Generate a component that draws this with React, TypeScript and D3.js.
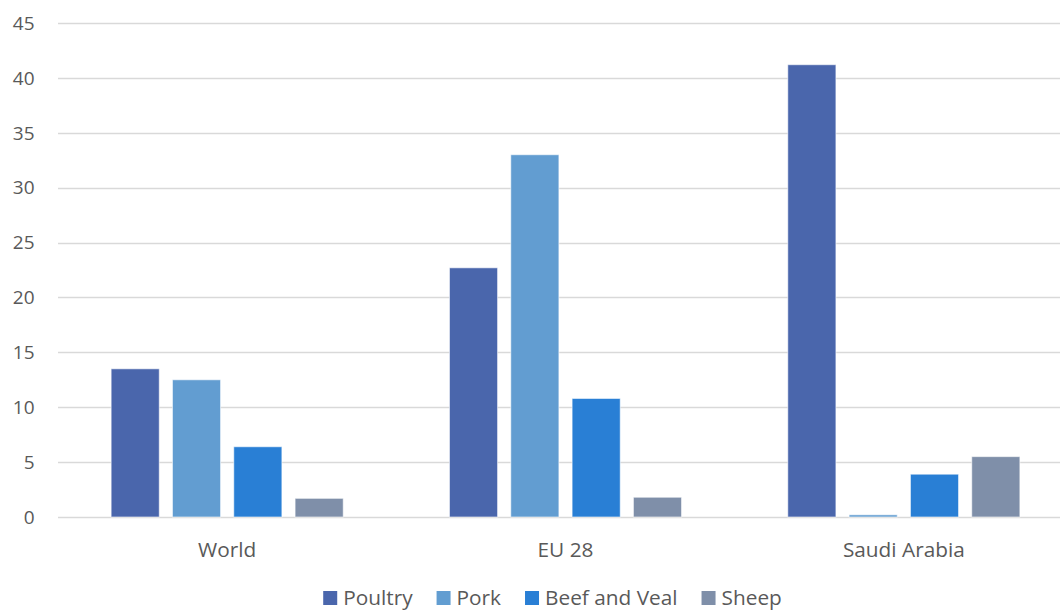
import React, { useEffect, useRef } from "react";
import * as d3 from "d3";

const categories = ["World", "EU 28", "Saudi Arabia"];
const seriesNames = ["Poultry", "Pork", "Beef and Veal", "Sheep"];
const poultry = [13.5, 22.7, 41.2];
const pork = [12.5, 33.0, 0.2];
const beef = [6.4, 10.8, 3.9];
const sheep = [1.7, 1.8, 5.5];
const yTicks = [0, 5, 10, 15, 20, 25, 30, 35, 40, 45];
const colors = ["#4A66AC", "#629DD1", "#297FD5", "#7F8FA9"];

const W = 1060;
const H = 610;
const FONT = "'Open Sans', sans-serif";
const FS_TICK = 19;
const FS = 20.8;

export default function App() {
  const ref = useRef<SVGSVGElement>(null);
  useEffect(() => {
    const svg = d3.select(ref.current);
    svg.selectAll("*").remove();
    const values = [poultry, pork, beef, sheep];
    const x0 = d3.scaleBand().domain(categories).range([58, 1073]).paddingInner(0).paddingOuter(0);
    const groupW = x0.bandwidth() * 0.686;
    const x1 = d3
      .scaleBand()
      .domain(seriesNames)
      .range([(x0.bandwidth() - groupW) / 2, (x0.bandwidth() + groupW) / 2])
      .paddingInner(0.215)
      .paddingOuter(0);
    const y = d3.scaleLinear().domain([0, 45]).range([517, 23]);

    const g = svg.append("g");
    g.selectAll("line.grid")
      .data(yTicks)
      .join("line")
      .attr("x1", 58)
      .attr("x2", W)
      .attr("y1", (d) => Math.round(y(d)) + 0.5)
      .attr("y2", (d) => Math.round(y(d)) + 0.5)
      .attr("stroke", "#d9d9d9")
      .attr("stroke-width", 1.3);

    g.selectAll("text.ytick")
      .data(yTicks)
      .join("text")
      .attr("x", 34.5)
      .attr("y", (d) => y(d) + 6.8)
      .attr("text-anchor", "end")
      .attr("font-family", FONT)
      .attr("font-size", FS_TICK)
      .attr("fill", "#595959")
      .text((d) => String(d));

    seriesNames.forEach((s, si) => {
      g.selectAll("rect.s" + si)
        .data(categories)
        .join("rect")
        .attr("x", (c) => (x0(c) as number) + (x1(s) as number))
        .attr("y", (c, i) => y(values[si][i]))
        .attr("width", x1.bandwidth())
        .attr("height", (c, i) => y(0) - y(values[si][i]))
        .attr("fill", colors[si])
        .attr("stroke", "rgba(255,255,255,0.6)")
        .attr("stroke-width", 1);
    });

    g.selectAll("text.cat")
      .data(categories)
      .join("text")
      .attr("x", (c) => (x0(c) as number) + x0.bandwidth() / 2)
      .attr("y", 556.5)
      .attr("text-anchor", "middle")
      .attr("font-family", FONT)
      .attr("font-size", FS)
      .attr("fill", "#595959")
      .text((c) => c);

    // legend
    const lg = svg.append("g");
    const items = lg
      .selectAll("g")
      .data(seriesNames)
      .join("g");
    items
      .append("rect")
      .attr("width", 14)
      .attr("height", 14)
      .attr("y", 591)
      .attr("fill", (d, i) => colors[i]);
    items
      .append("text")
      .attr("x", 20)
      .attr("y", 605)
      .attr("font-family", FONT)
      .attr("font-size", FS)
      .attr("fill", "#595959")
      .text((d) => d);
    const widths: number[] = [];
    items.each(function () {
      const t = d3.select(this).select("text").node() as SVGTextElement;
      widths.push(20 + t.getComputedTextLength());
    });
    const gap = 24;
    const total = d3.sum(widths) + gap * (widths.length - 1);
    let cx = 552.5 - total / 2;
    items.attr("transform", (d, i) => {
      const tx = cx;
      cx += widths[i] + gap;
      return `translate(${tx},0)`;
    });
  }, []);
  return (
    <svg ref={ref} width={W} height={H} style={{ position: "absolute", left: 0, top: 0, background: "#fff" }} />
  );
}
